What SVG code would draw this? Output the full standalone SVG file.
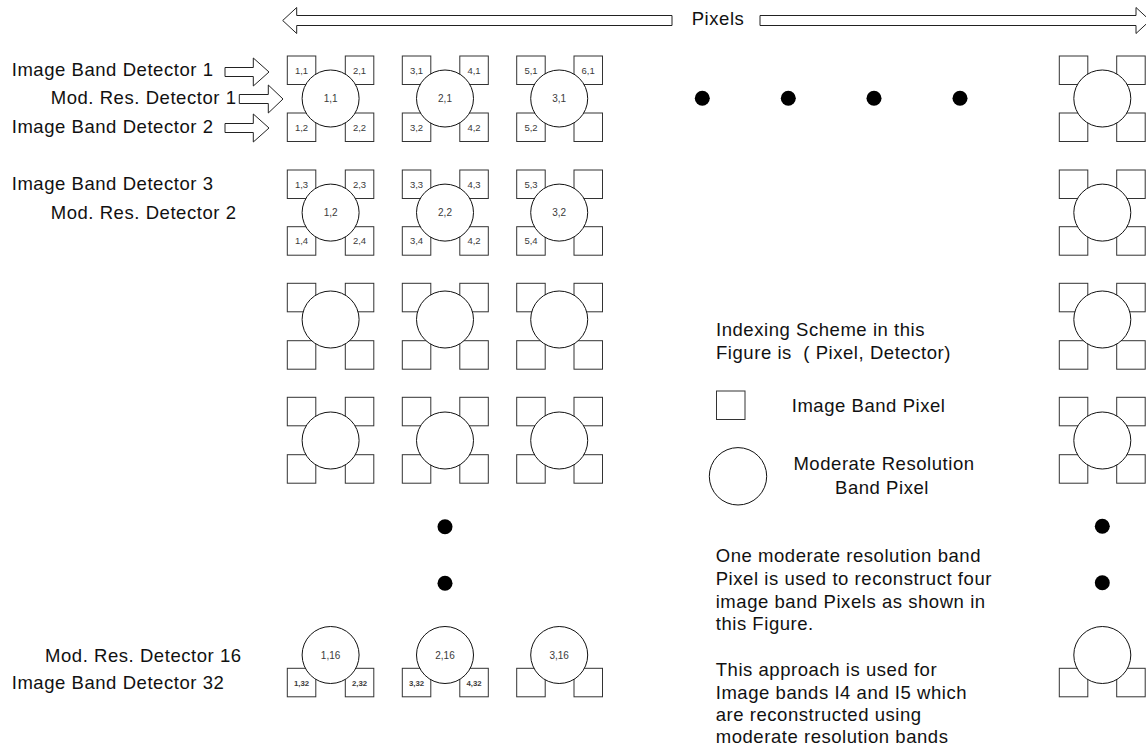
<svg xmlns="http://www.w3.org/2000/svg" width="1146" height="748" viewBox="0 0 1146 748">
<style>
.sq{fill:#fff;stroke:#333;stroke-width:1}
.c{fill:#fff;stroke:#111;stroke-width:1}
.dot{fill:#000}
.arr{fill:#fff;stroke:#222;stroke-width:1}
.t{font-family:"Liberation Sans",Arial,sans-serif;font-size:18.5px;letter-spacing:0.55px;fill:#111}
.s{font-family:"Liberation Sans",Arial,sans-serif;font-size:9.5px;fill:#3a3a3a;text-anchor:middle}
.m{font-family:"Liberation Sans",Arial,sans-serif;font-size:10px;fill:#3a3a3a;text-anchor:middle}
.b{font-family:"Liberation Sans",Arial,sans-serif;font-size:7.8px;font-weight:bold;fill:#3a3a3a;text-anchor:middle}
.mid{text-anchor:middle}
</style>
<rect width="1146" height="748" fill="#fff"/>

<g id="connectors">
  <polygon class="arr" points="282.7,20.5 296.7,7.5 296.7,15.5 672,15.5 672,25.5 296.7,25.5 296.7,33.5"/>
  <polygon class="arr" points="760,15.5 1136,15.5 1136,7.5 1150,20.5 1136,33.5 1136,25.5 760,25.5"/>
  <polygon class="arr" points="225,67.5 253.3,67.5 253.3,58 269,72 253.3,86 253.3,76.5 225,76.5"/>
  <polygon class="arr" points="239.3,94.5 268.3,94.5 268.3,85 283,99 268.3,113 268.3,103.5 239.3,103.5"/>
  <polygon class="arr" points="225,123.5 253.3,123.5 253.3,114 269,128 253.3,142 253.3,132.5 225,132.5"/>
</g>

<g id="labels-left">
  <text class="t" x="11.7" y="76">Image Band Detector 1</text>
  <text class="t" x="50.7" y="103.5">Mod. Res. Detector 1</text>
  <text class="t" x="11.7" y="132.7">Image Band Detector 2</text>
  <text class="t" x="11.7" y="190">Image Band Detector 3</text>
  <text class="t" x="50.7" y="219">Mod. Res. Detector 2</text>
  <text class="t" x="45" y="661.7">Mod. Res. Detector 16</text>
  <text class="t" x="11.7" y="689.3">Image Band Detector 32</text>
  <text class="t" x="691.7" y="25">Pixels</text>
</g>

<!-- Row 1 -->
<g id="p1-1">
  <rect class="sq" x="287.3" y="56" width="28.5" height="28.5"/><rect class="sq" x="345.3" y="56" width="28.5" height="28.5"/>
  <rect class="sq" x="287.3" y="113" width="28.5" height="28.5"/><rect class="sq" x="345.3" y="113" width="28.5" height="28.5"/>
  <circle class="c" cx="330.6" cy="98.5" r="28.5"/>
  <text class="s" x="301.5" y="73.7">1,1</text><text class="s" x="359.5" y="73.7">2,1</text>
  <text class="s" x="301.5" y="130.7">1,2</text><text class="s" x="359.5" y="130.7">2,2</text>
  <text class="m" x="330.6" y="102">1,1</text>
</g>
<g id="p2-1">
  <rect class="sq" x="402.3" y="56" width="28.5" height="28.5"/><rect class="sq" x="459.8" y="56" width="28.5" height="28.5"/>
  <rect class="sq" x="402.3" y="113" width="28.5" height="28.5"/><rect class="sq" x="459.8" y="113" width="28.5" height="28.5"/>
  <circle class="c" cx="445" cy="98.5" r="28.5"/>
  <text class="s" x="416.5" y="73.7">3,1</text><text class="s" x="474" y="73.7">4,1</text>
  <text class="s" x="416.5" y="130.7">3,2</text><text class="s" x="474" y="130.7">4,2</text>
  <text class="m" x="445" y="102">2,1</text>
</g>
<g id="p3-1">
  <rect class="sq" x="516.7" y="56" width="28.5" height="28.5"/><rect class="sq" x="574" y="56" width="28.5" height="28.5"/>
  <rect class="sq" x="516.7" y="113" width="28.5" height="28.5"/><rect class="sq" x="574" y="113" width="28.5" height="28.5"/>
  <circle class="c" cx="559.2" cy="98.5" r="28.5"/>
  <text class="s" x="531" y="73.7">5,1</text><text class="s" x="588.2" y="73.7">6,1</text>
  <text class="s" x="531" y="130.7">5,2</text>
  <text class="m" x="559.2" y="102">3,1</text>
</g>
<g id="pN-1">
  <rect class="sq" x="1059.3" y="56" width="28.5" height="28.5"/><rect class="sq" x="1116.7" y="56" width="28.5" height="28.5"/>
  <rect class="sq" x="1059.3" y="113" width="28.5" height="28.5"/><rect class="sq" x="1116.7" y="113" width="28.5" height="28.5"/>
  <circle class="c" cx="1102.3" cy="98.5" r="28.5"/>
</g>

<!-- Row 2 -->
<g id="p1-2">
  <rect class="sq" x="287.3" y="170" width="28.5" height="28.5"/><rect class="sq" x="345.3" y="170" width="28.5" height="28.5"/>
  <rect class="sq" x="287.3" y="226.7" width="28.5" height="28.5"/><rect class="sq" x="345.3" y="226.7" width="28.5" height="28.5"/>
  <circle class="c" cx="330.6" cy="212.6" r="28.5"/>
  <text class="s" x="301.5" y="187.7">1,3</text><text class="s" x="359.5" y="187.7">2,3</text>
  <text class="s" x="301.5" y="244.4">1,4</text><text class="s" x="359.5" y="244.4">2,4</text>
  <text class="m" x="330.6" y="216.1">1,2</text>
</g>
<g id="p2-2">
  <rect class="sq" x="402.3" y="170" width="28.5" height="28.5"/><rect class="sq" x="459.8" y="170" width="28.5" height="28.5"/>
  <rect class="sq" x="402.3" y="226.7" width="28.5" height="28.5"/><rect class="sq" x="459.8" y="226.7" width="28.5" height="28.5"/>
  <circle class="c" cx="445" cy="212.6" r="28.5"/>
  <text class="s" x="416.5" y="187.7">3,3</text><text class="s" x="474" y="187.7">4,3</text>
  <text class="s" x="416.5" y="244.4">3,4</text><text class="s" x="474" y="244.4">4,2</text>
  <text class="m" x="445" y="216.1">2,2</text>
</g>
<g id="p3-2">
  <rect class="sq" x="516.7" y="170" width="28.5" height="28.5"/><rect class="sq" x="574" y="170" width="28.5" height="28.5"/>
  <rect class="sq" x="516.7" y="226.7" width="28.5" height="28.5"/><rect class="sq" x="574" y="226.7" width="28.5" height="28.5"/>
  <circle class="c" cx="559.2" cy="212.6" r="28.5"/>
  <text class="s" x="531" y="187.7">5,3</text>
  <text class="s" x="531" y="244.4">5,4</text>
  <text class="m" x="559.2" y="216.1">3,2</text>
</g>
<g id="pN-2">
  <rect class="sq" x="1059.3" y="170" width="28.5" height="28.5"/><rect class="sq" x="1116.7" y="170" width="28.5" height="28.5"/>
  <rect class="sq" x="1059.3" y="226.7" width="28.5" height="28.5"/><rect class="sq" x="1116.7" y="226.7" width="28.5" height="28.5"/>
  <circle class="c" cx="1102.3" cy="212.6" r="28.5"/>
</g>

<!-- Row 3 -->
<g id="p1-3">
  <rect class="sq" x="287.3" y="283.3" width="28.5" height="28.5"/><rect class="sq" x="345.3" y="283.3" width="28.5" height="28.5"/>
  <rect class="sq" x="287.3" y="340.7" width="28.5" height="28.5"/><rect class="sq" x="345.3" y="340.7" width="28.5" height="28.5"/>
  <circle class="c" cx="330.6" cy="319.5" r="28.5"/>
</g>
<g id="p2-3">
  <rect class="sq" x="402.3" y="283.3" width="28.5" height="28.5"/><rect class="sq" x="459.8" y="283.3" width="28.5" height="28.5"/>
  <rect class="sq" x="402.3" y="340.7" width="28.5" height="28.5"/><rect class="sq" x="459.8" y="340.7" width="28.5" height="28.5"/>
  <circle class="c" cx="445" cy="319.5" r="28.5"/>
</g>
<g id="p3-3">
  <rect class="sq" x="516.7" y="283.3" width="28.5" height="28.5"/><rect class="sq" x="574" y="283.3" width="28.5" height="28.5"/>
  <rect class="sq" x="516.7" y="340.7" width="28.5" height="28.5"/><rect class="sq" x="574" y="340.7" width="28.5" height="28.5"/>
  <circle class="c" cx="559.2" cy="319.5" r="28.5"/>
</g>
<g id="pN-3">
  <rect class="sq" x="1059.3" y="283.3" width="28.5" height="28.5"/><rect class="sq" x="1116.7" y="283.3" width="28.5" height="28.5"/>
  <rect class="sq" x="1059.3" y="340.7" width="28.5" height="28.5"/><rect class="sq" x="1116.7" y="340.7" width="28.5" height="28.5"/>
  <circle class="c" cx="1102.3" cy="319.5" r="28.5"/>
</g>

<!-- Row 4 -->
<g id="p1-4">
  <rect class="sq" x="287.3" y="397.3" width="28.5" height="28.5"/><rect class="sq" x="345.3" y="397.3" width="28.5" height="28.5"/>
  <rect class="sq" x="287.3" y="454.7" width="28.5" height="28.5"/><rect class="sq" x="345.3" y="454.7" width="28.5" height="28.5"/>
  <circle class="c" cx="330.6" cy="440.5" r="28.5"/>
</g>
<g id="p2-4">
  <rect class="sq" x="402.3" y="397.3" width="28.5" height="28.5"/><rect class="sq" x="459.8" y="397.3" width="28.5" height="28.5"/>
  <rect class="sq" x="402.3" y="454.7" width="28.5" height="28.5"/><rect class="sq" x="459.8" y="454.7" width="28.5" height="28.5"/>
  <circle class="c" cx="445" cy="440.5" r="28.5"/>
</g>
<g id="p3-4">
  <rect class="sq" x="516.7" y="397.3" width="28.5" height="28.5"/><rect class="sq" x="574" y="397.3" width="28.5" height="28.5"/>
  <rect class="sq" x="516.7" y="454.7" width="28.5" height="28.5"/><rect class="sq" x="574" y="454.7" width="28.5" height="28.5"/>
  <circle class="c" cx="559.2" cy="440.5" r="28.5"/>
</g>
<g id="pN-4">
  <rect class="sq" x="1059.3" y="397.3" width="28.5" height="28.5"/><rect class="sq" x="1116.7" y="397.3" width="28.5" height="28.5"/>
  <rect class="sq" x="1059.3" y="454.7" width="28.5" height="28.5"/><rect class="sq" x="1116.7" y="454.7" width="28.5" height="28.5"/>
  <circle class="c" cx="1102.3" cy="440.5" r="28.5"/>
</g>

<!-- Bottom row -->
<g id="p1-16">
  <rect class="sq" x="287.3" y="668.3" width="28.5" height="28.5"/><rect class="sq" x="345.3" y="668.3" width="28.5" height="28.5"/>
  <circle class="c" cx="330.6" cy="655" r="28.5"/>
  <text class="m" x="330.6" y="658.5">1,16</text>
  <text class="b" x="301.5" y="685.5">1,32</text><text class="b" x="359.5" y="685.5">2,32</text>
</g>
<g id="p2-16">
  <rect class="sq" x="402.3" y="668.3" width="28.5" height="28.5"/><rect class="sq" x="459.8" y="668.3" width="28.5" height="28.5"/>
  <circle class="c" cx="445" cy="655" r="28.5"/>
  <text class="m" x="445" y="658.5">2,16</text>
  <text class="b" x="416.5" y="685.5">3,32</text><text class="b" x="474" y="685.5">4,32</text>
</g>
<g id="p3-16">
  <rect class="sq" x="516.7" y="668.3" width="28.5" height="28.5"/><rect class="sq" x="574" y="668.3" width="28.5" height="28.5"/>
  <circle class="c" cx="559.2" cy="655" r="28.5"/>
  <text class="m" x="559.2" y="658.5">3,16</text>
</g>
<g id="pN-16">
  <rect class="sq" x="1059.3" y="668.3" width="28.5" height="28.5"/><rect class="sq" x="1116.7" y="668.3" width="28.5" height="28.5"/>
  <circle class="c" cx="1102.3" cy="655" r="28.5"/>
</g>

<g id="ellipsis-dots">
  <circle class="dot" cx="702.3" cy="98.3" r="7.5"/>
  <circle class="dot" cx="788.3" cy="98.3" r="7.5"/>
  <circle class="dot" cx="874" cy="98.3" r="7.5"/>
  <circle class="dot" cx="960" cy="98.3" r="7.5"/>
  <circle class="dot" cx="445" cy="526.7" r="7.5"/>
  <circle class="dot" cx="445" cy="583.3" r="7.5"/>
  <circle class="dot" cx="1102.3" cy="526.3" r="7.5"/>
  <circle class="dot" cx="1102.3" cy="582.8" r="7.5"/>
</g>

<g id="legend">
  <text class="t" x="716" y="336">Indexing Scheme in this</text>
  <text class="t" x="716" y="358.7" xml:space="preserve">Figure is  ( Pixel, Detector)</text>
  <rect class="sq" x="716.5" y="391" width="28.5" height="28.5"/>
  <text class="t" x="791.7" y="411.7">Image Band Pixel</text>
  <circle class="c" cx="738" cy="476.3" r="28.7"/>
  <text class="t mid" x="884" y="470">Moderate Resolution</text>
  <text class="t mid" x="882" y="494">Band Pixel</text>
</g>

<g id="notes">
  <text class="t" x="715.7" y="562.3">One moderate resolution band</text>
  <text class="t" x="715.7" y="585">Pixel is used to reconstruct four</text>
  <text class="t" x="715.7" y="607.5">image band Pixels as shown in</text>
  <text class="t" x="715.7" y="630">this Figure.</text>
  <text class="t" x="715.7" y="676">This approach is used for</text>
  <text class="t" x="715.7" y="699">Image bands I4 and I5 which</text>
  <text class="t" x="715.7" y="721.3">are reconstructed using</text>
  <text class="t" x="715.7" y="743.3">moderate resolution bands</text>
</g>
</svg>
